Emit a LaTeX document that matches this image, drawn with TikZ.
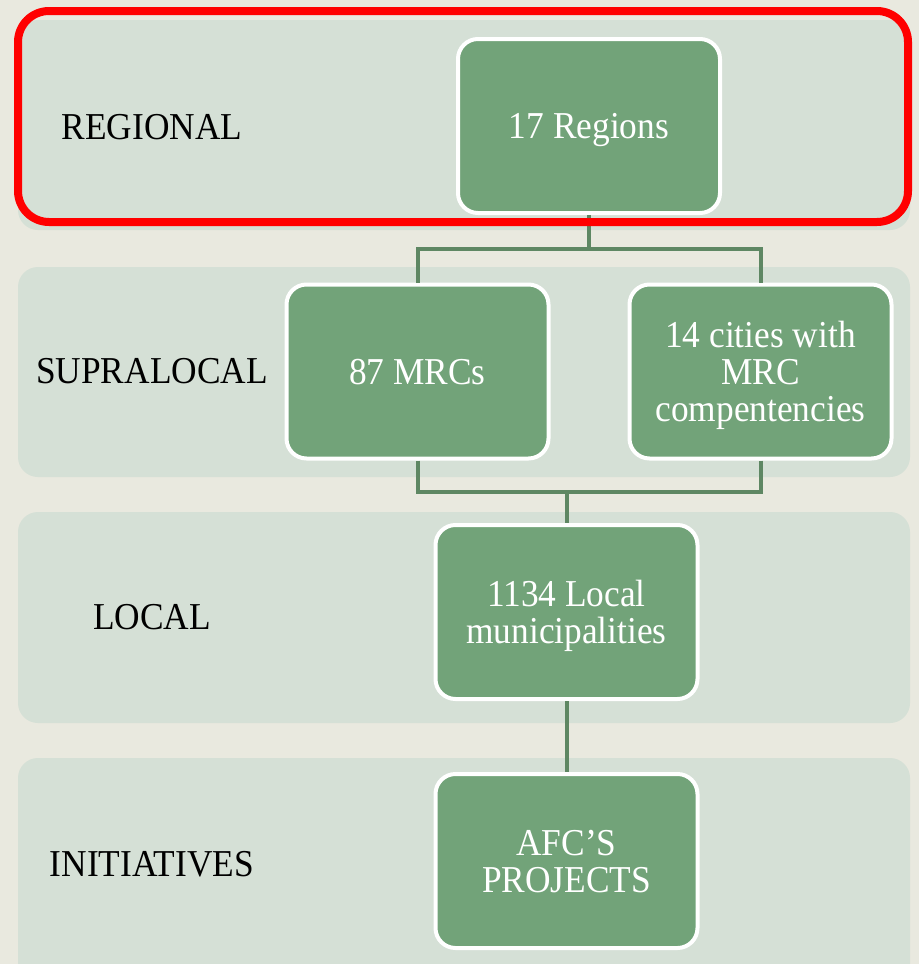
\documentclass[tikz,border=0pt]{standalone}
\usepackage{fontspec}
\setmainfont[FakeStretch=0.93]{Liberation Serif}
\usepackage{tikz}
\usepackage{xcolor}

\definecolor{paper}{HTML}{E9E9DF}
\definecolor{band}{HTML}{D5E0D6}
\definecolor{boxgreen}{HTML}{72A379}
\definecolor{linkgreen}{HTML}{5E8763}

\begin{document}
\begin{tikzpicture}[x=1pt, y=-1pt]

\tikzstyle{every node} = [font=\fontsize{38}{37}\selectfont]
\tikzstyle{unit} = [rectangle, rounded corners=20pt, fill=boxgreen, draw=white, line width=4pt, text=white, text depth=0pt, minimum width=262pt, minimum height=174pt, align=center]
\tikzstyle{level} = [rectangle, text=black]
\tikzstyle{link} = [draw=linkgreen, line width=4pt]

% page and bands
\fill[paper] (0,0) rectangle (919,964);
\useasboundingbox (0,0) rectangle (919,964);
\fill[band, rounded corners=20pt] (18,20) rectangle (910,230);
\fill[band, rounded corners=20pt] (18,267) rectangle (910,477);
\fill[band, rounded corners=20pt] (18,512) rectangle (910,723);
\fill[band, rounded corners=20pt] (18,758) rectangle (910,990);

\node[level] (l1) at (152,127) {REGIONAL};
\node[level] (l2) at (152,371) {SUPRALOCAL};
\node[level] (l3) at (152,617) {LOCAL};
\node[level] (l4) at (152,864) {INITIATIVES};

\node[unit] (reg) at (589,126) {17 Regions};
\node[unit] (mrc) at (417.5,371.5) {87 MRCs};
\node[unit] (cit) at (760.5,371.5) {14 cities with\\MRC\\compentencies};
\node[unit] (loc) at (566.5,612) {1134 Local\\municipalities};
\node[unit] (afc) at (566.5,861) {AFC’S\\PROJECTS};

\coordinate (j1) at (589,249);
\coordinate (j2) at (566.5,492);

\draw[link] (reg) -- (j1);
\draw[link] (j1) -| (mrc);
\draw[link] (j1) -| (cit);
\draw[link] (mrc) |- (j2);
\draw[link] (cit) |- (j2);
\draw[link] (j2) -- (loc);
\draw[link] (loc) -- (afc);

% highlight
\draw[red, line width=8pt, rounded corners=31pt] (18,11) rectangle (908,222);

\end{tikzpicture}
\end{document}
